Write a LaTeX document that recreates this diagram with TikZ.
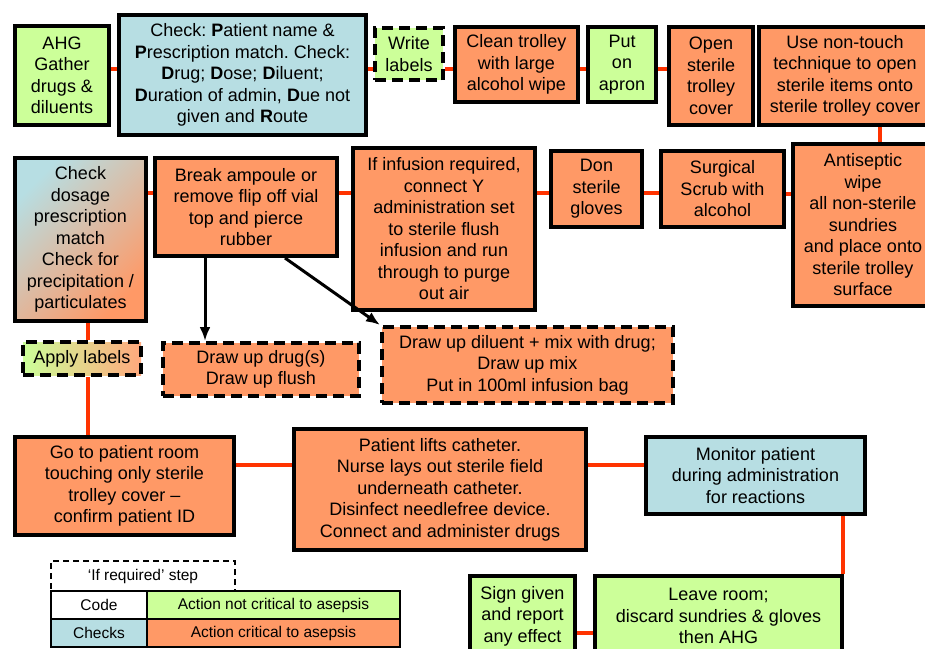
\documentclass[tikz,border=0pt]{standalone}
\usepackage{fontspec}
\setmainfont{Liberation Sans}
\usetikzlibrary{arrows.meta}

\definecolor{agreen}{HTML}{CCFF99}
\definecolor{aorange}{HTML}{FF9966}
\definecolor{ablue}{HTML}{B7DEE3}
\definecolor{ared}{HTML}{FF3300}
\frenchspacing

\begin{document}
\begin{tikzpicture}[x=1pt,y=1pt,
    every node/.style={draw,rectangle,line width=4pt,align=center,inner sep=0pt,font=\fontsize{18}{21.5}\selectfont},
    noncrit/.style={fill=agreen},
    crit/.style={fill=aorange},
    checkfill/.style={fill=ablue},
    ifreq/.style={dashed,dash pattern=on 11pt off 6pt},
    legend/.style={line width=1.5pt,font=\fontsize{15.5}{18}\selectfont},
    link/.style={draw=ared,line width=4pt},
    flowarrow/.style={line width=3pt,-{Latex[length=14pt,width=11pt]}}]
  \clip (0,0) rectangle (925,-648);
  \node[noncrit,minimum width=94pt,minimum height=99pt] (ahg) at (62,-75.5) {AHG\\Gather\\drugs \&\\diluents};
  \node[checkfill,minimum width=247pt,minimum height=120pt] (chk) at (242.5,-75) {Check: \textbf{P}atient name \&\\\textbf{P}rescription match. Check:\\\textbf{D}rug; \textbf{D}ose; \textbf{D}iluent;\\\textbf{D}uration of admin, \textbf{D}ue not\\given and \textbf{R}oute};
  \node[noncrit,ifreq,minimum width=68pt,minimum height=52pt] (wlab) at (409,-54) {Write\\labels};
  \node[crit,minimum width=123pt,minimum height=75pt] (clean) at (516.5,-64.5) {Clean trolley\\with large\\alcohol wipe};
  \node[noncrit,minimum width=68pt,minimum height=75pt] (apron) at (622,-64.5) {Put\\on\\apron};
  \node[crit,minimum width=84pt,minimum height=98pt] (open) at (711,-76) {Open\\sterile\\trolley\\cover};
  \node[crit,minimum width=172pt,minimum height=98pt] (nontouch) at (845,-76) {Use non-touch\\technique to open\\sterile items onto\\sterile trolley cover};

  \node[left color=ablue,right color=aorange,shading angle=45,minimum width=131pt,minimum height=163pt] (dose) at (80.5,-239.5) {Check\\dosage\\prescription\\match\\Check for\\precipitation /\\particulates};
  \node[crit,minimum width=182pt,minimum height=98pt] (brk) at (246,-207) {Break ampoule or\\remove flip off vial\\top and pierce\\rubber};
  \node[crit,minimum width=182pt,minimum height=162pt] (infu) at (444,-229) {If infusion required,\\connect Y\\administration set\\to sterile flush\\infusion and run\\through to purge\\out air};
  \node[crit,minimum width=91pt,minimum height=76pt] (don) at (596.5,-189) {Don\\sterile\\gloves};
  \node[crit,minimum width=123pt,minimum height=76pt] (scrub) at (722.5,-189) {Surgical\\Scrub with\\alcohol};
  \node[crit,minimum width=140pt,minimum height=162pt] (anti) at (863,-225) {Antiseptic\\wipe\\all non-sterile\\sundries\\and place onto\\sterile trolley\\surface};

  \node[ifreq,left color=agreen,right color=aorange!85,minimum width=118pt,minimum height=33pt] (alab) at (82,-358.5) {Apply labels};
  \node[crit,ifreq,minimum width=196pt,minimum height=53pt] (drug) at (261,-369.5) {Draw up drug(s)\\Draw up flush};
  \node[crit,ifreq,minimum width=291pt,minimum height=76pt] (dil) at (527.5,-365) {Draw up diluent + mix with drug;\\Draw up mix\\Put in 100ml infusion bag};

  \node[crit,minimum width=219pt,minimum height=98pt] (room) at (124.5,-486) {Go to patient room\\touching only sterile\\trolley cover --\\confirm patient ID};
  \node[crit,minimum width=292pt,minimum height=121pt] (lift) at (440,-489.5) {Patient lifts catheter.\\Nurse lays out sterile field\\underneath catheter.\\Disinfect needlefree device.\\Connect and administer drugs};
  \node[checkfill,minimum width=219pt,minimum height=77pt] (mon) at (755.5,-475.5) {Monitor patient\\during administration\\for reactions};
  \node[noncrit,minimum width=105pt,minimum height=80pt] (sign) at (522.5,-616) {Sign given\\and report\\any effect};
  \node[noncrit,minimum width=247pt,minimum height=80pt] (leave) at (718.5,-616) {Leave room;\\discard sundries \& gloves\\then AHG};

  \node[legend,ifreq,dash pattern=on 6pt off 4pt,minimum width=184pt,minimum height=30pt] (ifstep) at (143,-576) {‘If required’ step};
  \node[legend,fill=white,minimum width=96pt,minimum height=28pt] (code) at (99,-605) {Code};
  \node[legend,noncrit,minimum width=253pt,minimum height=28pt] (ncrit) at (273.5,-605) {Action not critical to asepsis};
  \node[legend,checkfill,minimum width=96pt,minimum height=28pt] (checks) at (99,-633) {Checks};
  \node[legend,crit,minimum width=253pt,minimum height=28pt] (acrit) at (273.5,-633) {Action critical to asepsis};

  \draw[link] (ahg.east|-0,-69) -- (chk.west|-0,-69) (chk.east|-0,-69) -- (wlab.west|-0,-69)
    (wlab.east|-0,-69) -- (clean.west|-0,-69) (clean.east|-0,-69) -- (apron.west|-0,-69)
    (apron.east|-0,-69) -- (open.west|-0,-69);
  \draw[link] (nontouch.south-|880,0) -- (anti.north-|880,0);
  \draw[link] (dose.east|-0,-193) -- (brk.west|-0,-193) (brk.east|-0,-193) -- (infu.west|-0,-193)
    (infu.east|-0,-193) -- (don.west|-0,-193) (don.east|-0,-193) -- (scrub.west|-0,-193)
    (scrub.east|-0,-194) -- (anti.west|-0,-194);
  \draw[link] (dose.south-|88,0) -- (alab.north-|88,0) (alab.south-|88,0) -- (room.north-|88,0);
  \draw[link] (room.east|-0,-465) -- (lift.west|-0,-465) (lift.east|-0,-465) -- (mon.west|-0,-465);
  \draw[link] (mon.south-|843,0) -- (leave.north-|843,0);
  \draw[link] (sign.east|-0,-633) -- (leave.west|-0,-633);
  \draw[flowarrow] (brk.south-|205,0) -- (drug.north-|205,0);
  \draw[flowarrow] (brk.south-|285,0) -- (dil.north west);
\end{tikzpicture}
\end{document}
